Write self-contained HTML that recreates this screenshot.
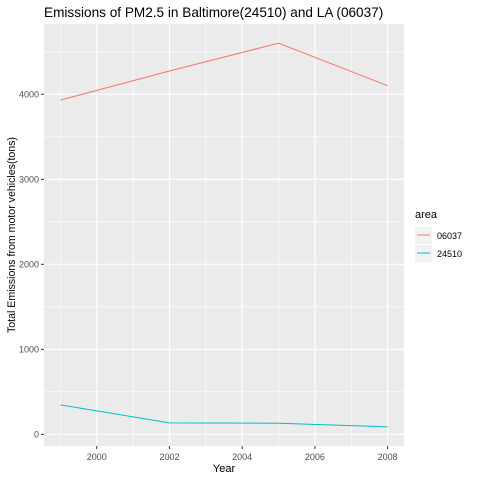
<!DOCTYPE html>
<html><head><meta charset="utf-8"><style>
body{margin:0;background:#fff;font-family:"Liberation Sans",sans-serif}
</style></head><body>
<svg width="480" height="480" id="c" font-family="Liberation Sans, sans-serif">
<rect x="0" y="0" width="480" height="480" fill="#fff"/>
<text x="44" y="17" font-size="13.6" fill="#000">Emissions of PM2.5 in Baltimore(24510) and LA (06037)</text>
<text x="224" y="472" font-size="11" text-anchor="middle">Year</text>
<text transform="translate(15,235) rotate(-90)" font-size="10.6" text-anchor="middle">Total Emissions from motor vehicles(tons)</text>
<g id="panel"></g>
<g>
<text x="415" y="218" font-size="11">area</text>
<rect x="415" y="227" width="17" height="17" fill="#F2F2F2"/>
<line x1="417" y1="235" x2="430" y2="235" stroke="#F8766D" stroke-width="1"/>
<text x="437" y="239" font-size="9" fill="#000">06037</text>
<rect x="415" y="245" width="17" height="17" fill="#F2F2F2"/>
<line x1="417" y1="253" x2="430" y2="253" stroke="#00BFC4" stroke-width="1"/>
<text x="437" y="257" font-size="9" fill="#000">24510</text>
</g>
</svg>
<script>
const years=[1999,2002,2005,2008];
const la=[3931,4274,4601,4101];
const balt=[346.8,134.3,130.4,88.3];
const xTicks=[2000,2002,2004,2006,2008];
const yTicks=[0,1000,2000,3000,4000];
const L=44,R=404,T=24,B=446;
const all=la.concat(balt);
const ymin=Math.min(...all),ymax=Math.max(...all),yr=ymax-ymin;
const y0=ymin-0.05*yr,y1=ymax+0.05*yr;
const xmin=Math.min(...years),xmax=Math.max(...years),xr=xmax-xmin;
const x0=xmin-0.05*xr,x1=xmax+0.05*xr;
const sx=v=>L+(v-x0)/(x1-x0)*(R-L);
const sy=v=>B-(v-y0)/(y1-y0)*(B-T);
const ns='http://www.w3.org/2000/svg';
const p=document.getElementById('panel');
function mk(t,a,par){const e=document.createElementNS(ns,t);for(const k in a)e.setAttribute(k,a[k]);(par||p).appendChild(e);return e;}
const bg=mk('rect',{x:L,y:T,width:R-L,height:B-T,fill:'#EBEBEB'});


for(let i=0;i<xTicks.length;i++){const v=xTicks[i];
 mk('line',{x1:sx(v-1),x2:sx(v-1),y1:T,y2:B,stroke:'#fff','stroke-width':0.6});
 const g=mk('line',{x1:sx(v),x2:sx(v),y1:T,y2:B,stroke:'#fff','stroke-width':1.2});
 
 
 mk('line',{x1:sx(v),x2:sx(v),y1:B,y2:B+3,stroke:'#333'});
 const t=mk('text',{x:sx(v),y:B+14,'font-size':9,'text-anchor':'middle',fill:'#4D4D4D'});t.textContent=v;
 
 
}
mk('line',{x1:sx(xTicks[xTicks.length-1]+1),x2:sx(xTicks[xTicks.length-1]+1),y1:T,y2:B,stroke:'#fff','stroke-width':0.6});
for(let i=0;i<yTicks.length;i++){const v=yTicks[i];
 mk('line',{x1:L,x2:R,y1:sy(v+500),y2:sy(v+500),stroke:'#fff','stroke-width':0.6});
 const g=mk('line',{x1:L,x2:R,y1:sy(v),y2:sy(v),stroke:'#fff','stroke-width':1.2});
 
 
 mk('line',{x1:L-3,x2:L,y1:sy(v),y2:sy(v),stroke:'#333'});
 const t=mk('text',{x:L-5,y:sy(v)+3,'font-size':9,'text-anchor':'end',fill:'#4D4D4D'});t.textContent=v;
 
 
}
function line(d,c,n){const pts=years.map((y,i)=>sx(y)+','+sy(d[i])).join(' ');
 const e=mk('polyline',{points:pts,fill:'none',stroke:c,'stroke-width':1});
 
 }
line(la,'#F8766D','line-06037');
line(balt,'#00BFC4','line-24510');
</script>
</body></html>
